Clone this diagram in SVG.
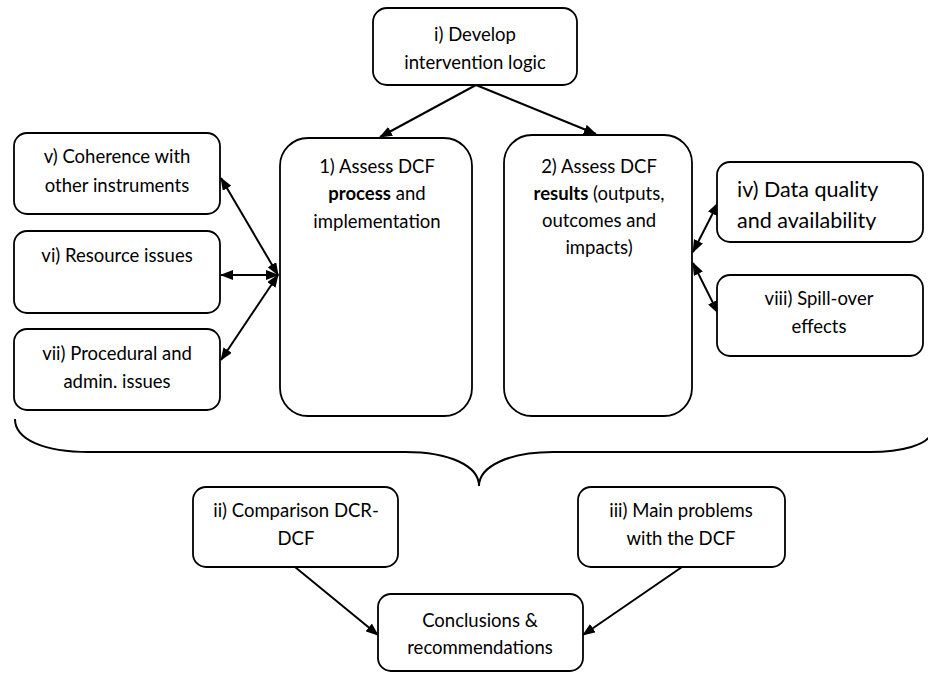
<svg xmlns="http://www.w3.org/2000/svg" width="928" height="673" viewBox="0 0 928 673">
<style>
.box{fill:#fff;stroke:#000;stroke-width:1.8}
.t{font-family:Lato,"Liberation Sans",sans-serif;font-size:18.5px;fill:#000;text-anchor:middle}
.big{font-family:Lato,"Liberation Sans",sans-serif;font-size:21.5px;fill:#000}
.c{fill:none;stroke:#000;stroke-width:2}
.b{font-weight:bold}
</style>
<defs>
<marker id="ah" viewBox="0 0 13 10" refX="12" refY="5" markerWidth="13" markerHeight="10" markerUnits="userSpaceOnUse" orient="auto-start-reverse">
<path d="M0,0 L13,5 L0,10 Z" fill="#000"/>
</marker>
<clipPath id="clipiv"><rect x="717" y="162" width="206" height="68"/></clipPath>
</defs>
<g id="connectors">
<line class="c" x1="476" y1="85" x2="380" y2="137" marker-end="url(#ah)"/>
<line class="c" x1="476" y1="85" x2="596" y2="134" marker-end="url(#ah)"/>
<line class="c" x1="278" y1="275" x2="221" y2="178" marker-start="url(#ah)" marker-end="url(#ah)"/>
<line class="c" x1="278" y1="275" x2="221" y2="275" marker-start="url(#ah)" marker-end="url(#ah)"/>
<line class="c" x1="278" y1="275" x2="221" y2="360" marker-start="url(#ah)" marker-end="url(#ah)"/>
<line class="c" x1="693" y1="252" x2="718" y2="203" marker-start="url(#ah)" marker-end="url(#ah)"/>
<line class="c" x1="693" y1="263" x2="718" y2="313" marker-start="url(#ah)" marker-end="url(#ah)"/>
<line class="c" x1="295" y1="567" x2="378" y2="635" marker-end="url(#ah)"/>
<line class="c" x1="682" y1="567" x2="583" y2="635" marker-end="url(#ah)"/>
</g>
<g id="brace">
<path class="c" d="M15 419 C15 440 45 452 89 452 L405 452 C450 452 479 466 479 486 C479 466 510 452 553 452 L870 452 C905 452 925 444 930 436"/>
</g>
<g id="node-i">
<rect class="box" x="373" y="8" width="204" height="77" rx="14"/>
<text class="t" x="475" y="41">i) Develop</text>
<text class="t" x="475" y="69">intervention logic</text>
</g>
<g id="node-1">
<rect class="box" x="280" y="138" width="192" height="278" rx="28"/>
<text class="t" x="377" y="173">1) Assess DCF</text>
<text class="t" x="377" y="200"><tspan class="b">process</tspan> and</text>
<text class="t" x="377" y="228">implementation</text>
</g>
<g id="node-2">
<rect class="box" x="504" y="135" width="188" height="281" rx="28"/>
<text class="t" x="599" y="173">2) Assess DCF</text>
<text class="t" x="599" y="200"><tspan class="b">results</tspan> (outputs,</text>
<text class="t" x="599" y="227">outcomes and</text>
<text class="t" x="599" y="254">impacts)</text>
</g>
<g id="node-v">
<rect class="box" x="14" y="133" width="206" height="81" rx="13"/>
<text class="t" x="117" y="163">v) Coherence with</text>
<text class="t" x="117" y="192">other instruments</text>
</g>
<g id="node-vi">
<rect class="box" x="14" y="231" width="206" height="82" rx="13"/>
<text class="t" x="117" y="262">vi) Resource issues</text>
</g>
<g id="node-vii">
<rect class="box" x="14" y="329" width="206" height="81" rx="13"/>
<text class="t" x="117" y="360">vii) Procedural and</text>
<text class="t" x="117" y="388">admin. issues</text>
</g>
<g id="node-iv">
<rect class="box" x="717" y="162" width="206" height="80" rx="13"/>
<g clip-path="url(#clipiv)">
<text class="big" x="737" y="197">iv) Data quality</text>
<text class="big" x="737" y="228">and availability</text>
</g>
</g>
<g id="node-viii">
<rect class="box" x="717" y="275" width="206" height="81" rx="13"/>
<text class="t" x="819" y="305">viii) Spill-over</text>
<text class="t" x="819" y="333">effects</text>
</g>
<g id="node-ii">
<rect class="box" x="193" y="487" width="205" height="80" rx="13"/>
<text class="t" x="296" y="517">ii) Comparison DCR-</text>
<text class="t" x="296" y="545">DCF</text>
</g>
<g id="node-iii">
<rect class="box" x="578" y="487" width="207" height="80" rx="13"/>
<text class="t" x="681" y="517">iii) Main problems</text>
<text class="t" x="681" y="545">with the DCF</text>
</g>
<g id="node-conc">
<rect class="box" x="378" y="594" width="205" height="77" rx="13"/>
<text class="t" x="480" y="627">Conclusions &amp;</text>
<text class="t" x="480" y="654">recommendations</text>
</g>
</svg>
